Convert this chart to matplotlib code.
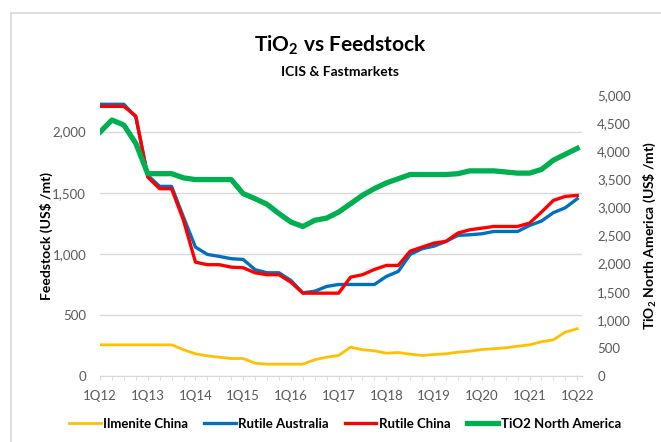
import matplotlib
matplotlib.use("Agg")
import matplotlib.pyplot as plt
import numpy as np

# quarterly data 1Q12 .. 1Q22 (41 quarters)
quarters = np.arange(41)
tick_labels = ["1Q12", "1Q13", "1Q14", "1Q15", "1Q16", "1Q17",
               "1Q18", "1Q19", "1Q20", "1Q21", "1Q22"]

ilmenite_china = [255, 255, 255, 255, 255, 255, 255, 215, 182, 165,
                  154, 143, 143, 105, 97, 97, 97, 97, 133, 154,
                  168, 236, 215, 206, 187, 192, 179, 168, 176, 182,
                  195, 203, 217, 223, 231, 244, 255, 280, 296, 359, 387]
rutile_australia = [2224, 2224, 2224, 2120, 1642, 1552, 1552, 1300, 1055, 995,
                    979, 960, 954, 870, 845, 845, 782, 681, 694, 733,
                    749, 749, 749, 749, 815, 856, 995, 1042, 1063, 1102,
                    1151, 1156, 1164, 1183, 1183, 1183, 1232, 1268, 1337, 1377, 1451]
rutile_china = [2207, 2207, 2207, 2128, 1628, 1533, 1533, 1274, 932, 911,
                911, 891, 886, 845, 829, 829, 768, 678, 678, 678,
                678, 809, 829, 872, 905, 905, 1022, 1055, 1088, 1102,
                1170, 1197, 1210, 1224, 1224, 1224, 1251, 1341, 1437, 1470, 1478]
tio2_north_america = [4340, 4555, 4465, 4140, 3600, 3600, 3600, 3525, 3495, 3495,
                      3495, 3495, 3245, 3155, 3055, 2890, 2740, 2660, 2770, 2810,
                      2917, 3065, 3215, 3335, 3435, 3510, 3585, 3585, 3585, 3585,
                      3600, 3650, 3650, 3650, 3630, 3610, 3610, 3675, 3840, 3945, 4050]

plt.rcParams['font.family'] = ['Lato', 'DejaVu Sans']
plt.rcParams['mathtext.fontset'] = 'custom'
plt.rcParams['mathtext.rm'] = 'Lato:bold'
plt.rcParams['mathtext.bf'] = 'Lato:bold'

grey = '#595959'
fig = plt.figure(figsize=(6.61, 4.42), dpi=100)

# chart frame (left + top edges visible)
fig.add_artist(plt.Line2D([11/661, 11/661], [0, 1 - 13/442], color='#D9D9D9', lw=1.2))
fig.add_artist(plt.Line2D([11/661, 1], [1 - 13/442, 1 - 13/442], color='#D9D9D9', lw=1.2))

ax = fig.add_axes([100/661, 1 - 376/442, 482/661, 281/442])
ax2 = ax.twinx()

l1, = ax.plot(quarters, ilmenite_china, color='#FFC000', lw=2.0, label='Ilmenite China')
l2, = ax.plot(quarters, rutile_australia, color='#0070C0', lw=2.4, label='Rutile Australia')
l3, = ax.plot(quarters, rutile_china, color='#FF0000', lw=2.4, label='Rutile China')
l4, = ax2.plot(quarters, tio2_north_america, color='#00B050', lw=3.8, label='TiO2 North America')

ax.set_xlim(0, 40.4)
ax.set_ylim(0, 2300)
ax2.set_ylim(0, 5000)
ax.set_yticks(np.arange(0, 2001, 500))
ax2.set_yticks(np.arange(0, 5001, 500))
ax.yaxis.set_major_formatter(matplotlib.ticker.StrMethodFormatter('{x:,.0f}'))
ax2.yaxis.set_major_formatter(matplotlib.ticker.StrMethodFormatter('{x:,.0f}'))
ax.set_xticks(np.arange(0, 41, 4))
ax.set_xticklabels(tick_labels)
ax.set_xticks(quarters, minor=True)

ax.grid(axis='y', color='#D9D9D9', lw=1.0)
ax.set_axisbelow(True)
for a in (ax, ax2):
    for s in ('top', 'left', 'right'):
        a.spines[s].set_visible(False)
ax2.spines['bottom'].set_visible(False)
ax.spines['bottom'].set_color('#D9D9D9')

ax.tick_params(axis='y', length=0, pad=10, labelsize=9.5, labelcolor=grey)
ax2.tick_params(axis='y', length=0, pad=11, labelsize=9.5, labelcolor=grey)
ax.tick_params(axis='x', which='both', length=3, color='#D9D9D9', pad=7,
               labelsize=9.5, labelcolor=grey)

ax.set_ylabel('Feedstock (US\\$ /mt)', fontsize=10, fontweight='bold')
ax.yaxis.set_label_coords(-0.097, 0.5)
ax2.set_ylabel('TiO$_{2}$ North America (US\\$ /mt)', fontsize=10, fontweight='bold')
ax2.yaxis.set_label_coords(1.122, 0.5)

fig.text(340/661, 1 - 45/442, 'TiO$_{2}$ vs Feedstock', ha='center', va='center',
         fontsize=15, fontweight='bold')
fig.text(340/661, 1 - 72/442, 'ICIS & Fastmarkets', ha='center', va='center',
         fontsize=10, fontweight='bold')

fig.legend(handles=[l1, l2, l3, l4], loc='center', bbox_to_anchor=(345/661, 1 - 424/442),
           ncol=4, frameon=False, handlelength=2.4, columnspacing=1.2, handletextpad=0.2,
           prop={'weight': 'bold', 'size': 9.5})

fig.savefig('out.png', dpi=100)
